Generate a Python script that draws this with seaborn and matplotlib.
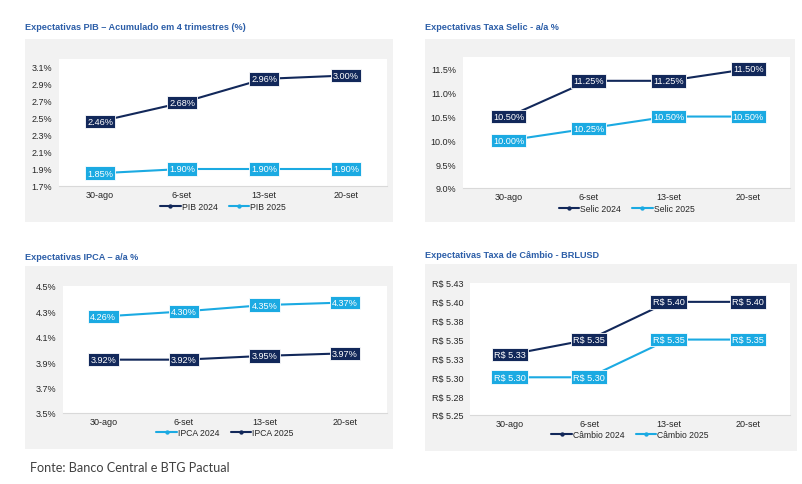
import matplotlib
matplotlib.use("Agg")
import matplotlib.pyplot as plt
from matplotlib.patches import Rectangle
import pandas as pd
import seaborn as sns

# --- Data ---
DATES = ["30-ago", "6-set", "13-set", "20-set"]

PIB_2024 = [2.46, 2.68, 2.96, 3.00]
PIB_2025 = [1.85, 1.90, 1.90, 1.90]
PIB_TICKS = [1.7, 1.9, 2.1, 2.3, 2.5, 2.7, 2.9, 3.1]

SELIC_2024 = [10.50, 11.25, 11.25, 11.50]
SELIC_2025 = [10.00, 10.25, 10.50, 10.50]
SELIC_TICKS = [9.0, 9.5, 10.0, 10.5, 11.0, 11.5]

IPCA_2024 = [4.26, 4.30, 4.35, 4.37]
IPCA_2025 = [3.92, 3.92, 3.95, 3.97]
IPCA_TICKS = [3.5, 3.7, 3.9, 4.1, 4.3, 4.5]

CAMBIO_2024 = [5.33, 5.35, 5.40, 5.40]
CAMBIO_2025 = [5.30, 5.30, 5.35, 5.35]
CAMBIO_TICKS = [5.25, 5.275, 5.30, 5.325, 5.35, 5.375, 5.40, 5.425]
CAMBIO_TICK_LABELS = ["R$ 5.25", "R$ 5.28", "R$ 5.30", "R$ 5.33",
                      "R$ 5.35", "R$ 5.38", "R$ 5.40", "R$ 5.43"]

NAVY = "#12285A"
LIGHT = "#1BAAE2"
TITLE_BLUE = "#2C5EA8"
BOX_GREY = "#F2F2F2"
TEXT = "#262626"

W, H = 803, 485

sns.set_theme(style="white")
plt.rcParams["font.family"] = ["Liberation Sans", "DejaVu Sans"]

fig = plt.figure(figsize=(W / 100, H / 100), dpi=100)
fig.patch.set_facecolor("white")


def px_rect(x0, y0, x1, y1):
    """Pixel box (top-left origin) -> figure fraction [left, bottom, w, h]."""
    return [x0 / W, 1 - y1 / H, (x1 - x0) / W, (y1 - y0) / H]


def panel(title, title_xy, box, axbox, s1, s2, names, colors, ylim, ticks,
          ticklabels, fmt, xlim, legend_y):
    # grey background card (behind the axes)
    l, b, w, h = px_rect(*box)
    fig.patches.append(Rectangle((l, b), w, h, transform=fig.transFigure,
                                 facecolor=BOX_GREY, edgecolor="none", zorder=-5))
    fig.text(title_xy[0] / W, 1 - title_xy[1] / H, title, fontsize=6.6,
             fontweight="bold", color=TITLE_BLUE, va="center", ha="left")

    ax = fig.add_axes(px_rect(*axbox))
    ax.set_facecolor("white")
    df = pd.DataFrame({
        "x": list(range(len(DATES))) * 2,
        "val": s1 + s2,
        "serie": [names[0]] * len(s1) + [names[1]] * len(s2),
    })
    sns.lineplot(data=df, x="x", y="val", hue="serie", hue_order=names,
                 palette=dict(zip(names, colors)), marker="o", markersize=3.5,
                 markeredgewidth=0, linewidth=1.5, ax=ax, legend=True)

    for series, col in zip([s1, s2], colors):
        for i, v in enumerate(series):
            ax.text(i, v, fmt(v), fontsize=6.6, color="white", ha="center",
                    va="center", zorder=5,
                    bbox=dict(boxstyle="square,pad=0.25", facecolor=col,
                              edgecolor="white", linewidth=0.6))

    ax.set_xlim(*xlim)
    ax.set_ylim(*ylim)
    ax.set_xticks(range(len(DATES)))
    ax.set_xticklabels(DATES)
    ax.set_yticks(ticks)
    ax.set_yticklabels(ticklabels)
    ax.tick_params(axis="both", labelsize=6.5, colors=TEXT, length=0)
    ax.tick_params(axis="x", pad=3)
    ax.tick_params(axis="y", pad=5)
    ax.set_xlabel("")
    ax.set_ylabel("")
    for side in ["top", "right", "left"]:
        ax.spines[side].set_visible(False)
    ax.spines["bottom"].set_color("#D9D9D9")
    ax.spines["bottom"].set_linewidth(0.8)

    cx = (axbox[0] + axbox[2]) / 2
    leg = ax.legend(loc="center", bbox_to_anchor=(cx / W, 1 - legend_y / H),
                    bbox_transform=fig.transFigure, ncol=2, frameon=False,
                    fontsize=6.2, handlelength=2.4, handletextpad=0.1,
                    columnspacing=1.3, markerscale=0.9)
    for t in leg.get_texts():
        t.set_color(TEXT)
    return ax


pct = lambda v: f"{v:.2f}%"

panel("Expectativas PIB – Acumulado em 4 trimestres (%)", (25, 28),
      (25, 40, 393, 223), (59, 60, 387, 187), PIB_2024, PIB_2025,
      ["PIB 2024", "PIB 2025"], [NAVY, LIGHT], (1.7, 3.194), PIB_TICKS,
      [f"{t:.1f}%" for t in PIB_TICKS], pct, (-0.5, 3.5), 208)

panel("Expectativas Taxa Selic - a/a %", (425, 28),
      (425, 40, 795, 223), (463, 58, 790, 189), SELIC_2024, SELIC_2025,
      ["Selic 2024", "Selic 2025"], [NAVY, LIGHT], (9.0, 11.75), SELIC_TICKS,
      [f"{t:.1f}%" for t in SELIC_TICKS], pct, (-0.57, 3.52), 210)

panel("Expectativas IPCA – a/a %", (25, 257),
      (25, 267, 393, 450), (63, 287, 387, 414), IPCA_2024, IPCA_2025,
      ["IPCA 2024", "IPCA 2025"], [LIGHT, NAVY], (3.5, 4.5), IPCA_TICKS,
      [f"{t:.1f}%" for t in IPCA_TICKS], pct, (-0.5, 3.52), 434)

panel("Expectativas Taxa de Câmbio - BRLUSD", (425, 256),
      (425, 265, 797, 452), (470, 284, 790, 416), CAMBIO_2024, CAMBIO_2025,
      ["Câmbio 2024", "Câmbio 2025"], [NAVY, LIGHT], (5.25, 5.425),
      CAMBIO_TICKS, CAMBIO_TICK_LABELS, lambda v: f"R$ {v:.2f}",
      (-0.5, 3.53), 436)

fig.text(30 / W, 1 - 468 / H, "Fonte: Banco Central e BTG Pactual",
         fontsize=9.1, color="#404040", va="center", ha="left",
         family=["Lato", "DejaVu Sans"])

fig.savefig("out.png", dpi=100, facecolor="white")
